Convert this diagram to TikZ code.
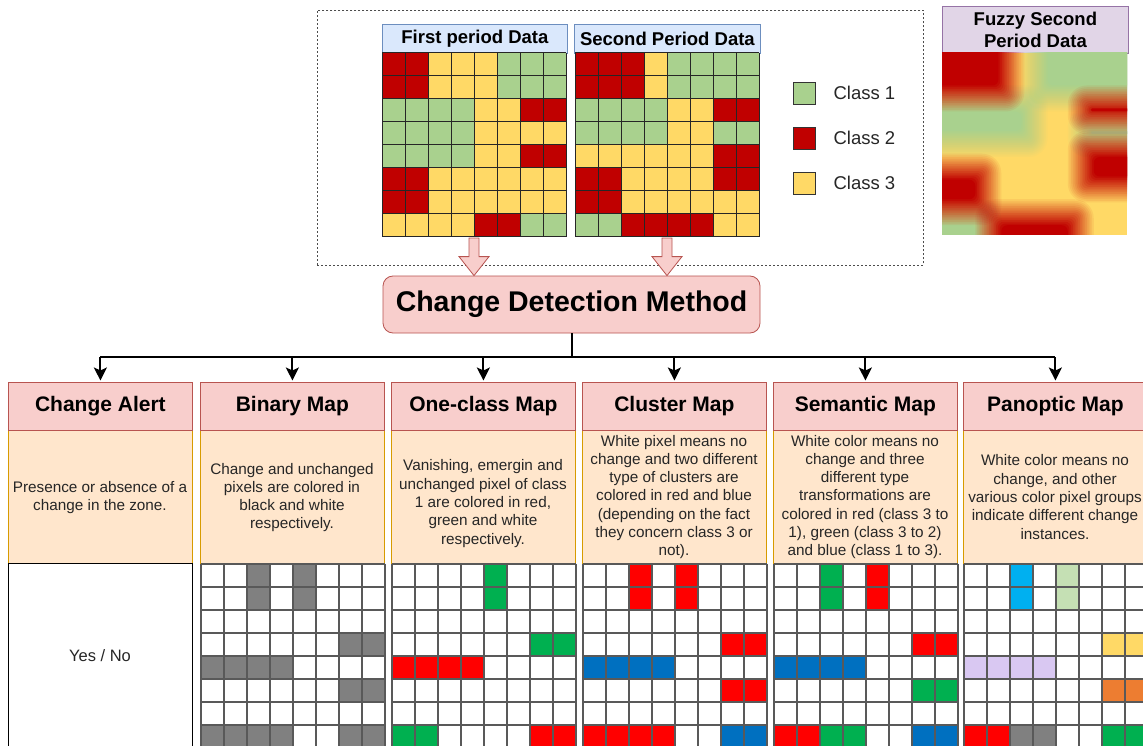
\documentclass[tikz,border=0pt]{standalone}
\usepackage{fontspec}
\setmainfont{Liberation Sans}
\usetikzlibrary{arrows.meta,calc}
\definecolor{pxR}{HTML}{C00000}
\definecolor{pxY}{HTML}{FFD966}
\definecolor{pxG}{HTML}{A9D18E}
\definecolor{pxW}{HTML}{FFFFFF}
\definecolor{pxK}{HTML}{808080}
\definecolor{pxS}{HTML}{FF0000}
\definecolor{pxE}{HTML}{00B050}
\definecolor{pxB}{HTML}{0070C0}
\definecolor{pxC}{HTML}{00B0F0}
\definecolor{pxL}{HTML}{C5E0B4}
\definecolor{pxP}{HTML}{D9C8F2}
\definecolor{pxO}{HTML}{ED7D31}
\definecolor{hdrfill}{HTML}{F8CECC}
\definecolor{hdrline}{HTML}{B85450}
\definecolor{bodyfill}{HTML}{FFE6CC}
\definecolor{bodyline}{HTML}{D79B00}
\definecolor{bluefill}{HTML}{DAE8FC}
\definecolor{blueline}{HTML}{6C8EBF}
\definecolor{purfill}{HTML}{E1D5E7}
\definecolor{purline}{HTML}{9673A6}
\newcommand{\pixgrid}[6]{%
  \foreach \rw [count=\ii from 0] in {#6} {%
    \foreach \cc [count=\jj from 0] in \rw {%
      \fill[px\cc] ({#1+\jj*#3},{#2+\ii*#4}) rectangle ++(#3,#4);
    }%
  }%
  \foreach \q in {0,...,8}{%
    \draw[#5] ({#1+\q*#3},#2) -- ++(0,{8*#4});
    \draw[#5] (#1,{#2+\q*#4}) -- ++({8*#3},0);
  }%
}
\newcommand{\blurblk}[5]{%
  \pgfmathsetmacro{\bx}{942+(#2)*23.125}%
  \pgfmathsetmacro{\by}{53+(#3)*22.75}%
  \pgfmathsetmacro{\ex}{942+(#4)*23.125}%
  \pgfmathsetmacro{\ey}{53+(#5)*22.75}%
  \pgfmathsetmacro{\blim}{0.45*min(\ex-\bx,\ey-\by)}%
  \foreach \k in {0,...,15}{%
    \pgfmathsetmacro{\dd}{max(13-\k*26/15,-\blim)}%
    \pgfmathsetmacro{\op}{1/(16-\k)}%
    \pgfmathsetmacro{\rr}{min(max(\dd,0)+6,0.49*min(\ex-\bx+2*\dd,\ey-\by+2*\dd))}%
    \fill[#1, opacity=\op, rounded corners=\rr pt] ({\bx-(\dd)},{\by-(\dd)}) rectangle ({\ex+(\dd)},{\ey+(\dd)});
  }%
}
\tikzset{
  hdr/.style={draw=hdrline, fill=hdrfill, line width=0.8pt, minimum width=184pt, minimum height=48pt, inner sep=0pt, anchor=north west, font=\fontsize{21}{25}\selectfont\bfseries},
  bodybox/.style={draw=bodyline, fill=bodyfill, line width=0.8pt, minimum width=184pt, minimum height=133pt, inner sep=0pt, anchor=north west},
  bodytxt/.style={align=center, font=\fontsize{15.3}{18.3}\selectfont, text=black!85, inner sep=0pt},
  conn/.style={line width=2pt, black},
  arrowtip/.style={-{Stealth[length=13pt,width=13pt,inset=3pt]}, shorten >=1.5pt},
  blockarr/.style={draw=hdrline, fill=hdrfill, line width=0.8pt},
  gridtop/.style={draw=black!85, line width=1pt},
  gridbot/.style={draw=black!65, line width=1.3pt},
  legsq/.style={draw=black!80, line width=0.8pt, minimum size=22pt, inner sep=0pt},
  legtxt/.style={font=\fontsize{18.5}{22}\selectfont, anchor=west, inner sep=0pt, text=black!85},
  ttl/.style={line width=0.8pt, inner sep=0pt, anchor=north west, align=center, font=\fontsize{18.5}{22}\selectfont\bfseries},
}
\begin{document}
\begin{tikzpicture}[x=1pt,y=-1pt]
\useasboundingbox (0,0) rectangle (1143,746);
\fill[white] (0,0) rectangle (1143,746);
\clip (0,0) rectangle (1143,746);

% data frame
\node[draw=black!70, dash pattern=on 2pt off 2pt, line width=0.7pt, minimum width=606pt, minimum height=255pt, inner sep=0pt, anchor=north west] (databox) at (317,10) {};

% method box and block arrows
\node[draw=hdrline, fill=hdrfill, line width=0.8pt, rounded corners=10pt, minimum width=377pt, minimum height=57pt, inner sep=0pt, font=\fontsize{28.5}{32}\selectfont\bfseries] (cdm) at (571.5,304.5) {Change Detection Method};
\coordinate (a1s) at (474,238);
\coordinate (a1e) at (cdm.north -| a1s);
\coordinate (a2s) at (667,238);
\coordinate (a2e) at (cdm.north -| a2s);
\draw[blockarr] ($(a1s)+(-5,0)$) -- ($(a1e)+(-5,-19)$) -- ($(a1e)+(-15,-19)$) -- (a1e) -- ($(a1e)+(15,-19)$) -- ($(a1e)+(5,-19)$) -- ($(a1s)+(5,0)$) -- cycle;
\draw[blockarr] ($(a2s)+(-5,0)$) -- ($(a2e)+(-5,-19)$) -- ($(a2e)+(-15,-19)$) -- (a2e) -- ($(a2e)+(15,-19)$) -- ($(a2e)+(5,-19)$) -- ($(a2s)+(5,0)$) -- cycle;

% titles
\node[ttl, fill=bluefill, draw=blueline, minimum width=185pt, minimum height=29pt] (t1) at (382,24) {First period Data};
\node[ttl, fill=bluefill, draw=blueline, minimum width=186pt, minimum height=29pt] (t2) at (574,24) {Second Period Data};
\node[ttl, fill=purfill, draw=purline, minimum width=186pt, minimum height=47pt] (t3) at (942,6) {Fuzzy Second\\Period Data};

% grids
\pixgrid{382}{53}{23}{23}{gridtop}{{R,R,Y,Y,Y,G,G,G},{R,R,Y,Y,Y,G,G,G},{G,G,G,G,Y,Y,R,R},{G,G,G,G,Y,Y,Y,Y},{G,G,G,G,Y,Y,R,R},{R,R,Y,Y,Y,Y,Y,Y},{R,R,Y,Y,Y,Y,Y,Y},{Y,Y,Y,Y,R,R,G,G}}
\pixgrid{575}{53}{23}{23}{gridtop}{{R,R,R,Y,G,G,G,G},{R,R,R,Y,G,G,G,G},{G,G,G,G,Y,Y,R,R},{G,G,G,G,Y,Y,G,G},{Y,Y,Y,Y,Y,Y,R,R},{R,R,Y,Y,Y,Y,R,R},{R,R,Y,Y,Y,Y,Y,Y},{G,G,R,R,R,R,Y,Y}}

% legend
\node[legsq, fill=pxG] (l1) at (804,93) {};
\node[legsq, fill=pxR] (l2) at (804,138) {};
\node[legsq, fill=pxY] (l3) at (804,183) {};
\node[legtxt] (l1t) at ($(l1.east)+(18,0)$) {Class 1};
\node[legtxt] (l2t) at ($(l2.east)+(18,0)$) {Class 2};
\node[legtxt] (l3t) at ($(l3.east)+(18,0)$) {Class 3};

% fuzzy image
\begin{scope}
\clip (942,53) rectangle (1127,235);
\fill[pxY] (942,53) rectangle (1127,235);
\blurblk{pxG}{4}{-1}{9}{2}
\blurblk{pxG}{-1}{2}{4}{4}
\blurblk{pxG}{6}{3}{9}{4}
\blurblk{pxG}{-1}{7}{2}{9}
\blurblk{pxR}{-1}{-1}{3}{2}
\blurblk{pxR}{6}{2}{9}{3}
\blurblk{pxR}{6}{4}{9}{6}
\blurblk{pxR}{-1}{5}{2}{7}
\blurblk{pxR}{2}{7}{6}{9}
\end{scope}

% columns: bodies, headers
\node[bodybox] (bA) at (8,430) {};
\node[bodybox] (bB) at (200,430) {};
\node[bodybox] (bO) at (391,430) {};
\node[bodybox] (bC) at (582,430) {};
\node[bodybox] (bS) at (773,430) {};
\node[bodybox] (bP) at (963,430) {};
\node[hdr] (hA) at (8,382) {Change Alert};
\node[hdr] (hB) at (200,382) {Binary Map};
\node[hdr] (hO) at (391,382) {One-class Map};
\node[hdr] (hC) at (582,382) {Cluster Map};
\node[hdr] (hS) at (773,382) {Semantic Map};
\node[hdr] (hP) at (963,382) {Panoptic Map};

\node[bodytxt] (xA) at (100,497.5) {Presence or absence of a\\change in the zone.};
\node[bodytxt] (xB) at (292,497.5) {Change and unchanged\\pixels are colored in\\black and white\\respectively.};
\node[bodytxt] (xO) at (483,503.5) {Vanishing, emergin and\\unchanged pixel of class\\1 are colored in red,\\green and white\\respectively.};
\node[bodytxt] (xC) at (674,497) {White pixel means no\\change and two different\\type of clusters are\\colored in red and blue\\(depending on the fact\\they concern class 3 or\\not).};
\node[bodytxt] (xS) at (865,497) {White color means no\\change and three\\different type\\transformations are\\colored in red (class 3 to\\1), green (class 3 to 2)\\and blue (class 1 to 3).};
\node[bodytxt] (xP) at (1055,497) {White color means no\\change, and other\\various color pixel groups\\indicate different change\\instances.};

% connectors
\draw[conn] (cdm.south) -- ++(0,24) coordinate (hub);
\draw[conn] (hA.north |- hub) -- (hP.north |- hub);
\foreach \h in {hA,hB,hO,hC,hS,hP}{
  \draw[conn, arrowtip] (\h.north |- hub) -- (\h.north);
}

% change alert result
\node[draw=black, line width=0.8pt, fill=white, minimum width=184pt, minimum height=200pt, anchor=north west, inner sep=0pt] (yA) at (8,563) {};
\node[font=\fontsize{16.5}{20}\selectfont, text=black!85, inner sep=0pt] (yn) at (100,656) {Yes / No};

% result maps
\pixgrid{201}{564}{23}{23}{gridbot}{{W,W,K,W,K,W,W,W},{W,W,K,W,K,W,W,W},{W,W,W,W,W,W,W,W},{W,W,W,W,W,W,K,K},{K,K,K,K,W,W,W,W},{W,W,W,W,W,W,K,K},{W,W,W,W,W,W,W,W},{K,K,K,K,W,W,K,K}}
\pixgrid{392}{564}{23}{23}{gridbot}{{W,W,W,W,E,W,W,W},{W,W,W,W,E,W,W,W},{W,W,W,W,W,W,W,W},{W,W,W,W,W,W,E,E},{S,S,S,S,W,W,W,W},{W,W,W,W,W,W,W,W},{W,W,W,W,W,W,W,W},{E,E,W,W,W,W,S,S}}
\pixgrid{583}{564}{23}{23}{gridbot}{{W,W,S,W,S,W,W,W},{W,W,S,W,S,W,W,W},{W,W,W,W,W,W,W,W},{W,W,W,W,W,W,S,S},{B,B,B,B,W,W,W,W},{W,W,W,W,W,W,S,S},{W,W,W,W,W,W,W,W},{S,S,S,S,W,W,B,B}}
\pixgrid{774}{564}{23}{23}{gridbot}{{W,W,E,W,S,W,W,W},{W,W,E,W,S,W,W,W},{W,W,W,W,W,W,W,W},{W,W,W,W,W,W,S,S},{B,B,B,B,W,W,W,W},{W,W,W,W,W,W,E,E},{W,W,W,W,W,W,W,W},{S,S,E,E,W,W,B,B}}
\pixgrid{964}{564}{23}{23}{gridbot}{{W,W,C,W,L,W,W,W},{W,W,C,W,L,W,W,W},{W,W,W,W,W,W,W,W},{W,W,W,W,W,W,Y,Y},{P,P,P,P,W,W,W,W},{W,W,W,W,W,W,O,O},{W,W,W,W,W,W,W,W},{S,S,K,K,W,W,E,E}}
\end{tikzpicture}
\end{document}
